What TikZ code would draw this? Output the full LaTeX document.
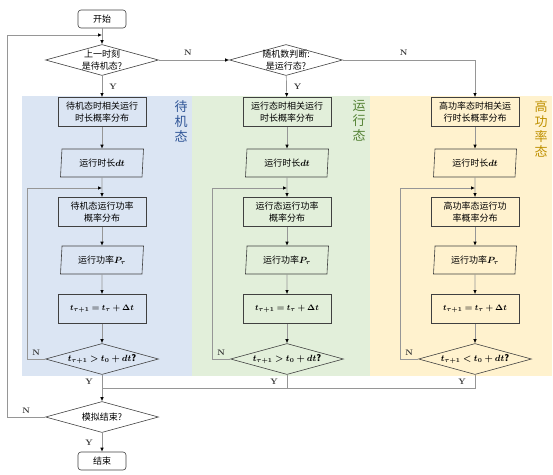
\documentclass[tikz,border=0pt]{standalone}
\usepackage{fontspec}
\usepackage{bm}
\newfontfamily\cjk{Noto Sans CJK SC}
\usetikzlibrary{shapes.geometric,arrows.meta}
\definecolor{bgblue}{RGB}{219,229,243}
\definecolor{bggreen}{RGB}{226,239,218}
\definecolor{bgyellow}{RGB}{255,242,206}
\definecolor{txtblue}{RGB}{47,85,151}
\definecolor{txtgreen}{RGB}{84,130,53}
\definecolor{txtgold}{RGB}{191,144,0}
\definecolor{linegray}{RGB}{150,150,150}
\definecolor{edgegray}{RGB}{64,64,64}
\begin{document}
\begin{tikzpicture}[x=1pt, y=-1pt,
    txt/.style={font=\cjk\fontsize{9}{12.5}\selectfont, align=center, inner sep=0pt},
    proc/.style={txt, draw=edgegray, line width=0.7pt, minimum width=88, minimum height=29},
    term/.style={txt, draw=edgegray, line width=0.6pt, rounded corners=3pt, minimum width=48, minimum height=18},
    io/.style={txt, draw=edgegray, line width=0.6pt, trapezium, trapezium left angle=80, trapezium right angle=100, trapezium stretches body, minimum width=83, minimum height=28},
    decide/.style={draw=edgegray, line width=0.6pt, diamond, minimum width=113, minimum height=31, inner sep=0pt, label={[txt]center:{#1}}},
    band/.style={font=\cjk\fontsize{13}{15}\selectfont, align=center, inner sep=0pt},
    yn/.style={font=\fontsize{8}{9}\selectfont\bfseries, inner sep=0pt, text=black!80},
    link/.style={draw=linegray, line width=0.7pt},
    flow/.style={link, -{Latex[length=4pt, width=3.5pt, color=black]}}]
    \useasboundingbox (0,0) rectangle (553,474);

    % background bands
    \fill[bgblue] (22,96) rectangle (192,376);
    \fill[bggreen] (192,96) rectangle (370,376);
    \fill[bgyellow] (370,96) rectangle (552,376);
    \node[band, text=txtblue] (lblA) at (181,121) {待\\机\\态};
    \node[band, text=txtgreen] (lblB) at (359,121) {运\\行\\态};
    \node[band, text=txtgold] (lblC) at (541,129) {高\\功\\率\\态};

    % top decisions
    \node[term] (start) at (102,19) {开始};
    \node[decide={上一时刻\\是待机态?}] (dA) at (102,60) {};
    \node[decide={随机数判断:\\是运行态?}] (dB) at (286,60) {};

    % standby column
    \node[proc] (A1) at (102,112) {待机态时相关运行\\时长概率分布};
    \node[io] (A2) at (102,163) {运行时长$\bm{dt}$};
    \node[proc] (A3) at (102,212) {待机态运行功率\\概率分布};
    \node[io] (A4) at (102,260) {运行功率$\bm{P_\tau}$};
    \node[proc] (A5) at (102,309) {\fontsize{8}{9}\selectfont$\bm{t_{\tau+1}=t_\tau+\Delta t}$};
    \node[decide={\fontsize{9}{10}\selectfont$\bm{t_{\tau+1}>t_0+dt}$\textbf{?}}] (A6) at (102,359) {};

    % running column
    \node[proc] (B1) at (287,112) {运行态时相关运行\\时长概率分布};
    \node[io] (B2) at (287,163) {运行时长$\bm{dt}$};
    \node[proc] (B3) at (287,212) {运行态运行功率\\概率分布};
    \node[io] (B4) at (287,260) {运行功率$\bm{P_\tau}$};
    \node[proc] (B5) at (287,309) {\fontsize{8}{9}\selectfont$\bm{t_{\tau+1}=t_\tau+\Delta t}$};
    \node[decide={\fontsize{9}{10}\selectfont$\bm{t_{\tau+1}>t_0+dt}$\textbf{?}}] (B6) at (287,359) {};

    % high power column
    \node[proc] (C1) at (475,112) {高功率态时相关运\\行时长概率分布};
    \node[io] (C2) at (475,163) {运行时长$\bm{dt}$};
    \node[proc] (C3) at (475,212) {高功率态运行功\\率概率分布};
    \node[io] (C4) at (475,260) {运行功率$\bm{P_\tau}$};
    \node[proc] (C5) at (475,309) {\fontsize{8}{9}\selectfont$\bm{t_{\tau+1}=t_\tau+\Delta t}$};
    \node[decide={\fontsize{9}{10}\selectfont$\bm{t_{\tau+1}<t_0+dt}$\textbf{?}}] (C6) at (475,359) {};

    % end of simulation
    \node[decide={模拟结束?}] (D) at (102,417) {};
    \node[term] (stop) at (102,461) {结束};

    \coordinate (outer) at (7,35);
    \coordinate (top) at (102,35);
    \coordinate (Aloop) at (27,188);
    \coordinate (Ain) at (102,188);
    \coordinate (Bloop) at (212,188);
    \coordinate (Bin) at (287,188);
    \coordinate (Cloop) at (400,188);
    \coordinate (Cin) at (475,188);
    \coordinate (join) at (102,388);

    % connectors
    \draw[flow] (start) -- (dA);
    \draw[flow] (dA) -- node[yn, right=7pt]{Y} (A1);
    \draw[flow] (dA) -- node[yn, above=4pt, xshift=-6pt]{N} (dB);
    \draw[flow] (dB) -- node[yn, right=7pt]{Y} (B1);
    \draw[flow] (dB) -| node[yn, pos=0.23, above=4pt]{N} (C1);

    \draw[flow] (A1) -- (A2);
    \draw[flow] (A2) -- (A3);
    \draw[flow] (A3) -- (A4);
    \draw[flow] (A4) -- (A5);
    \draw[flow] (A5) -- (A6);
    \draw[flow] (A6) -| node[yn, pos=0.25, above=3pt]{N} (Aloop) -- (Ain);

    \draw[flow] (B1) -- (B2);
    \draw[flow] (B2) -- (B3);
    \draw[flow] (B3) -- (B4);
    \draw[flow] (B4) -- (B5);
    \draw[flow] (B5) -- (B6);
    \draw[flow] (B6) -| node[yn, pos=0.25, above=3pt]{N} (Bloop) -- (Bin);

    \draw[flow] (C1) -- (C2);
    \draw[flow] (C2) -- (C3);
    \draw[flow] (C3) -- (C4);
    \draw[flow] (C4) -- (C5);
    \draw[flow] (C5) -- (C6);
    \draw[flow] (C6) -| node[yn, pos=0.25, above=3pt]{N} (Cloop) -- (Cin);

    \draw[flow] (A6) -- node[yn, pos=0.25, left=9pt]{Y} (D);
    \draw[link] (B6) |- node[yn, pos=0.25, left=9pt]{Y} (join);
    \draw[link] (C6) |- node[yn, pos=0.25, left=9pt]{Y} (join);
    \draw[flow] (D) -- node[yn, left=9pt]{Y} (stop);
    \draw[flow] (D) -| node[yn, pos=0.25, above=3pt]{N} (outer) -- (top);

\end{tikzpicture}
\end{document}
